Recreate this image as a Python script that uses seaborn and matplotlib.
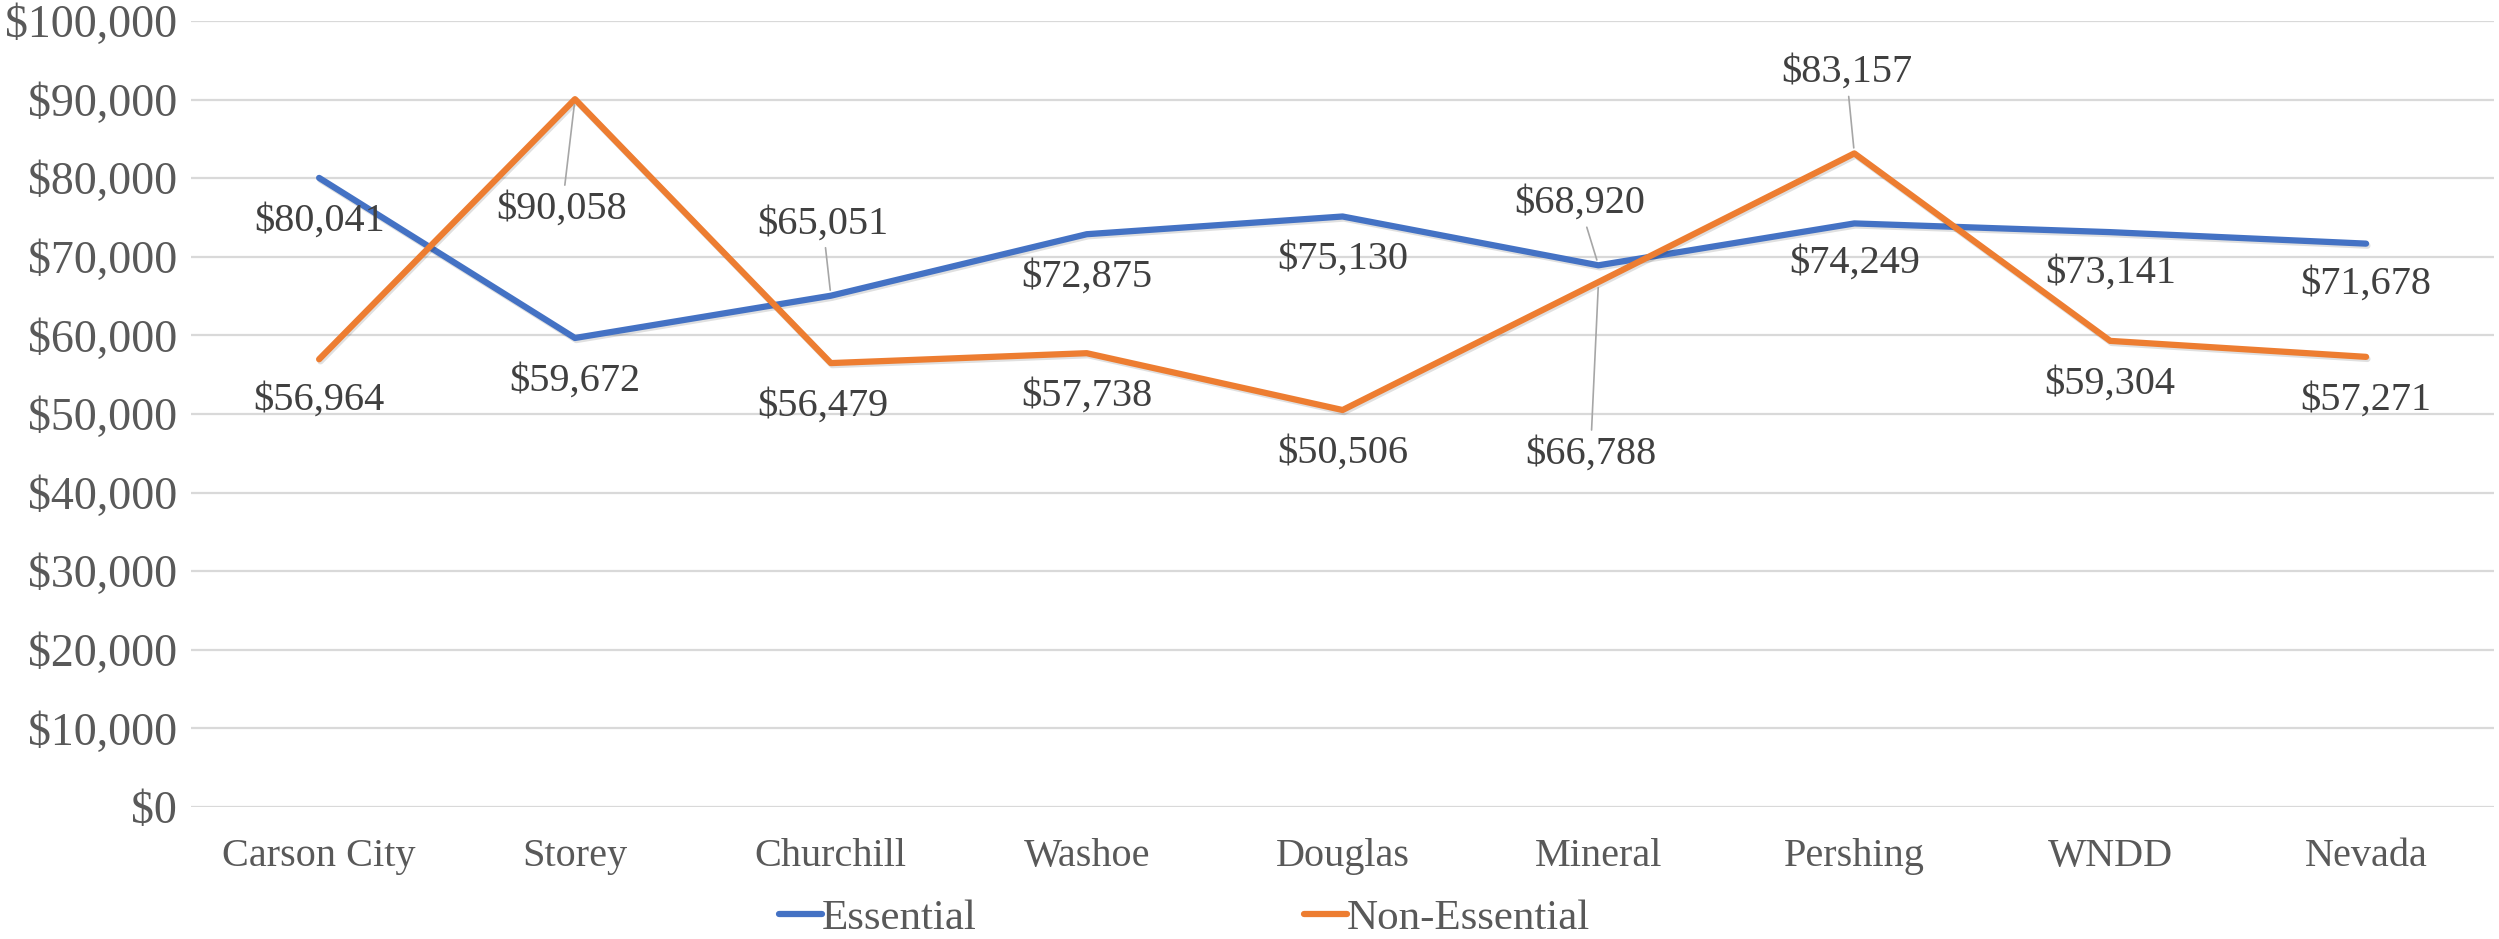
import numpy as np
import pandas as pd
import matplotlib
import matplotlib.pyplot as plt
import matplotlib.patheffects as pe
import seaborn as sns
from matplotlib.ticker import FuncFormatter

matplotlib.use('Agg')

counties = ['Carson City', 'Storey', 'Churchill', 'Washoe', 'Douglas',
            'Mineral', 'Pershing', 'WNDD', 'Nevada']
essential = [80041, 59672, 65051, 72875, 75130, 68920, 74249, 73141, 71678]
non_essential = [56964, 90058, 56479, 57738, 50506, 66788, 83157, 59304, 57271]
series_names = ['Essential', 'Non-Essential']

# label offsets in pixels (dx, dy), dy positive = up; leader line if True
ess_offsets = [(0, -43, False), (0, -43, False), (-8, 72, True), (0, -43, False),
               (0, -43, False), (-19, 62, True), (0, -40, False), (0, -41, False),
               (0, -41, False)]
non_offsets = [(0, -41, False), (-13, -110, True), (-8, -43, False), (0, -43, False),
               (0, -43, False), (-8, -172, True), (-8, 81, True), (0, -43, False),
               (0, -43, False)]

plt.rcParams['font.family'] = ['Liberation Serif', 'DejaVu Serif']

rows = []
for i in range(len(counties)):
    rows.append([counties[i], series_names[0], essential[i]])
for i in range(len(counties)):
    rows.append([counties[i], series_names[1], non_essential[i]])
df = pd.DataFrame(rows, columns=['County', 'Group', 'Wage'])

colors = {'Essential': '#4472C4', 'Non-Essential': '#ED7D31'}

fig = plt.figure(figsize=(24.99, 9.39), dpi=100)
ax = fig.add_axes([0.0765, 0.1406, 0.9215, 0.837])

shadow = [pe.SimpleLineShadow(offset=(1.0, -1.5), alpha=0.12, shadow_color='black'),
          pe.Normal()]
sns.lineplot(data=df, x='County', y='Wage', hue='Group', palette=colors,
             sort=False, linewidth=4.5, ax=ax, legend=False,
             path_effects=shadow, solid_capstyle='round', solid_joinstyle='round')

ax.set_ylim(0, 100000)
ax.set_xlim(-0.5, len(counties) - 0.5)
ax.set_yticks(np.arange(0, 100001, 10000))
ax.yaxis.set_major_formatter(FuncFormatter(lambda v, p: '${:,.0f}'.format(v)))
ax.grid(axis='y', color='#d9d9d9', linewidth=1.6)
ax.set_axisbelow(True)
for s in ax.spines.values():
    s.set_visible(False)
ax.tick_params(axis='y', length=0, pad=10, labelsize=33, labelcolor='#595959')
ax.tick_params(axis='x', length=0, pad=22, labelsize=29, labelcolor='#595959')
ax.set_xlabel('')
ax.set_ylabel('')

for vals, offs in [(essential, ess_offsets), (non_essential, non_offsets)]:
    for i, v in enumerate(vals):
        dx, dy, lead = offs[i]
        kw = {}
        if lead:
            kw['arrowprops'] = dict(arrowstyle='-', color='#a6a6a6', lw=1.2,
                                    shrinkA=2, shrinkB=4)
        ax.annotate('${:,.0f}'.format(v), xy=(i, v), xytext=(dx * 0.72, dy * 0.72),
                    textcoords='offset points', ha='center', va='center',
                    fontsize=29, color='#404040', **kw)

handles = [plt.Line2D([], [], color=colors[n], lw=4.5, solid_capstyle='round')
           for n in series_names]
fig.legend(handles, series_names, loc='center', bbox_to_anchor=(0.474, 0.022),
           ncol=2, frameon=False, fontsize=31, handlelength=1.0,
           handletextpad=0.0, columnspacing=7.6, labelcolor='#595959')

fig.savefig('out.png', dpi=100)
